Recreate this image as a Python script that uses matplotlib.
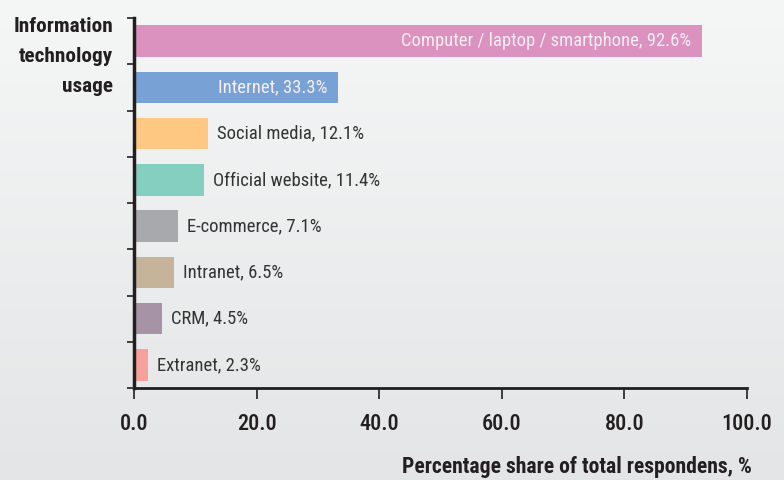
import matplotlib
matplotlib.use("Agg")
import matplotlib.pyplot as plt
import numpy as np
from matplotlib import font_manager

# pick a narrow font if there is one
names = set(f.name for f in font_manager.fontManager.ttflist)
narrow = 'Lato'
for cand in ['Roboto Condensed', 'DejaVu Sans Condensed', 'Liberation Sans Narrow',
             'Open Sans Condensed', 'Lato']:
    if cand in names:
        narrow = cand
        break
plt.rcParams['font.family'] = [narrow, 'DejaVu Sans']

categories = ['Computer / laptop / smartphone', 'Internet', 'Social media',
              'Official website', 'E-commerce', 'Intranet', 'CRM', 'Extranet']
shares = [92.6, 33.3, 12.1, 11.4, 7.1, 6.5, 4.5, 2.3]
colors = ['#dc92bf', '#78a2d6', '#fec882', '#84cfc0',
          '#a7a9ac', '#c6b49a', '#a693a6', '#f8a09c']
inside = [True, True, False, False, False, False, False, False]
xticks = [0, 20, 40, 60, 80, 100]

fig = plt.figure(figsize=(7.84, 4.80), dpi=100)

# background gradient
bg = fig.add_axes([0, 0, 1, 1], zorder=-10)
grad = np.linspace(0, 1, 256).reshape(-1, 1)
bg.imshow(grad, aspect='auto', extent=[0, 1, 0, 1], origin='upper',
          cmap=matplotlib.colors.LinearSegmentedColormap.from_list('bg', ['#f5f6f6', '#e4e5e6']))
bg.axis('off')

ax = fig.add_axes([134 / 784, 92 / 480, 613 / 784, 370 / 480])
ax.patch.set_alpha(0)
y = np.arange(len(categories))
ax.barh(y, shares, height=0.68, color=colors, zorder=2)
ax.set_ylim(len(categories) - 0.5, -0.5)
ax.set_xlim(0, 100)

for i, (c, v) in enumerate(zip(categories, shares)):
    txt = f'{c}, {v}%'
    if inside[i]:
        ax.text(v - 1.7, i, txt, ha='right', va='center', color='#f7eef3', fontsize=13.4)
    else:
        ax.text(v + 1.5, i, txt, ha='left', va='center', color='#333333', fontsize=13.4)

ax.set_yticks(np.arange(len(categories) + 1) - 0.5)
ax.set_yticklabels([])
ax.tick_params(axis='y', length=5, width=1.2, color='#231f20')
ax.set_xticks(xticks)
ax.set_xticklabels([f'{t:.1f}' for t in xticks], fontsize=16, color='#231f20',
                   fontweight='medium')
ax.tick_params(axis='x', length=8, width=1.2, color='#231f20', pad=10)
for s in ['top', 'right']:
    ax.spines[s].set_visible(False)
ax.spines['left'].set_linewidth(2.5)
ax.spines['left'].set_color('#231f20')
ax.spines['bottom'].set_linewidth(2)
ax.spines['bottom'].set_color('#231f20')

fig.text(113 / 784, 1 - 17 / 480, 'Information\ntechnology\nusage', ha='right', va='top',
         fontsize=15.3, fontweight='bold', color='#231f20', linespacing=1.72)
fig.text(752 / 784, 1 - 467 / 480, 'Percentage share of total respondens, %', ha='right',
         va='center', fontsize=15.6, fontweight='bold', color='#231f20')

fig.savefig('out.png', dpi=100)
